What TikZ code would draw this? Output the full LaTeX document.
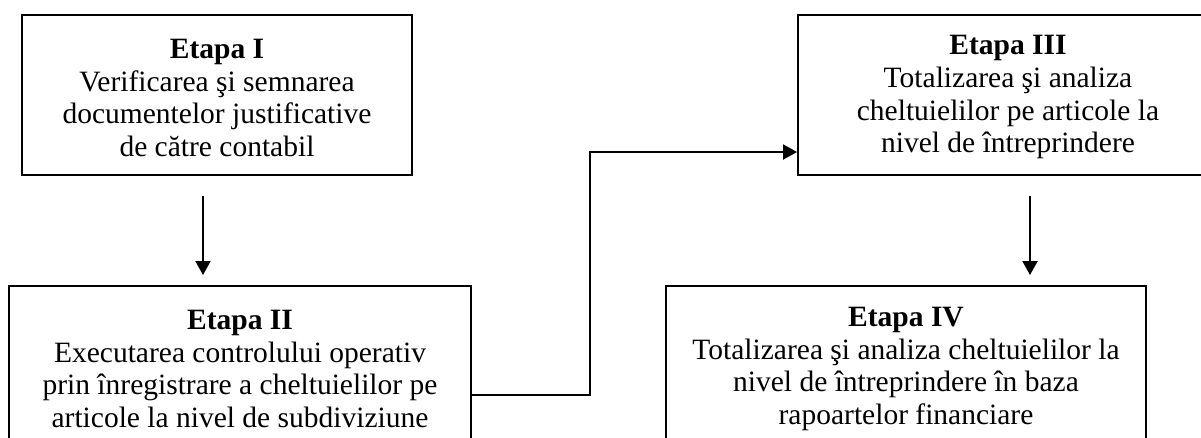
\documentclass[tikz,border=0pt]{standalone}
\usepackage{fontspec}
\setmainfont{Liberation Serif}
\usetikzlibrary{arrows.meta}
% invisible strut that lowers the first line a little
\newcommand{\firstline}{\rule{0pt}{25pt}}
\begin{document}
\begin{tikzpicture}[x=1pt,y=-1pt,
  stagebox/.style={draw=black,line width=2pt,rectangle,minimum height=160pt,
    inner sep=0pt,align=center,font=\fontsize{29.5pt}{32.6pt}\selectfont},
  flow/.style={line width=2pt,-{Triangle[length=14pt,width=15pt]}}]
  \useasboundingbox (0,0) rectangle (1201,437);
  \clip (0,0) rectangle (1201,437);
  % stage boxes
  \node[stagebox,minimum width=390pt] (b1) at (217,95)
    {\firstline\textbf{Etapa I}\\Verificarea şi semnarea\\documentelor justificative\\de către contabil};
  \node[stagebox,minimum width=462pt] (b2) at (240,366)
    {\firstline\textbf{Etapa II}\\Executarea controlului operativ\\prin înregistrare a cheltuielilor pe\\articole la nivel de subdiviziune};
  \node[stagebox,minimum width=420pt] (b3) at (1008,94.5)
    {\firstline\textbf{Etapa III}\\Totalizarea şi analiza\\cheltuielilor pe articole la\\nivel de întreprindere};
  \node[stagebox,minimum width=480pt] (b4) at (906,366)
    {\firstline\textbf{Etapa IV}\\Totalizarea şi analiza cheltuielilor la\\nivel de întreprindere în baza\\rapoartelor financiare};
  % arrow ends between the rows
  \coordinate (a1s) at (203,196);
  \coordinate (a1e) at (203,275);
  \coordinate (a2s) at (1030,196);
  \coordinate (a2e) at (1030,275);
  \coordinate (bend) at (590,152);
  % connectors
  \draw[flow] (a1s) -- (a1e);
  \draw[flow] (a2s) -- (a2e);
  \draw[flow] ([yshift=-29pt]b2.east) -| (bend) -- (b3.west |- bend);
\end{tikzpicture}
\end{document}
